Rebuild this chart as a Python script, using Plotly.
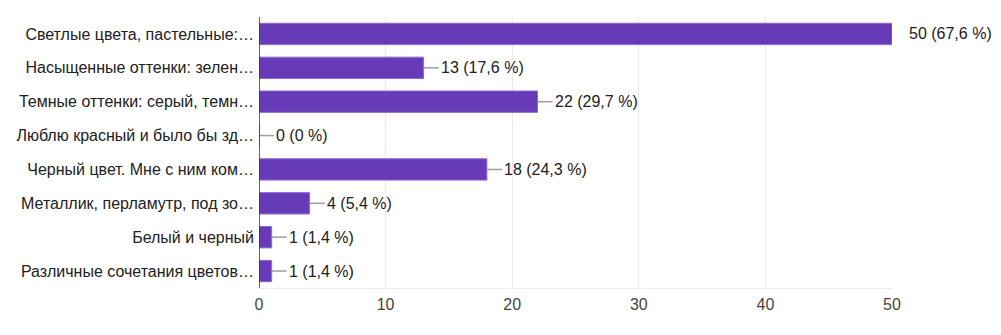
import plotly.graph_objects as go

categories = [
    "Светлые цвета, пастельные:…",
    "Насыщенные оттенки: зелен…",
    "Темные оттенки: серый, темн…",
    "Люблю красный и было бы зд…",
    "Черный цвет. Мне с ним ком…",
    "Металлик, перламутр, под зо…",
    "Белый и черный",
    "Различные сочетания цветов…",
]
counts = [50, 13, 22, 0, 18, 4, 1, 1]
percents = ["67,6", "17,6", "29,7", "0", "24,3", "5,4", "1,4", "1,4"]
x_ticks = [0, 10, 20, 30, 40, 50]

BAR = "#673ab7"
TEXT = "#212121"
FONT = "Liberation Sans, Arial"
FS = 16

fig = go.Figure()
fig.add_trace(go.Bar(
    y=categories, x=counts, orientation="h",
    marker=dict(color=BAR, line=dict(color="#8c6bd0", width=1)),
    width=0.63, hoverinfo="skip",
))

xmax = 50
for cat, v, p in zip(categories, counts, percents):
    label = f"{v} ({p} %)"
    if v < xmax:
        fig.add_shape(type="line", xref="x", yref="y", xsizemode="pixel",
                      xanchor=v, x0=0, x1=15, y0=cat, y1=cat,
                      line=dict(color="#9e9e9e", width=1.5))
    fig.add_annotation(x=v, y=cat, text=label, showarrow=False,
                       xanchor="left", xshift=15,
                       font=dict(family=FONT, size=FS, color=TEXT))

fig.update_layout(
    width=1001, height=335,
    margin=dict(l=259, r=109, t=17, b=47),
    paper_bgcolor="white", plot_bgcolor="white",
    showlegend=False, bargap=0.37,
    font=dict(family=FONT, size=FS, color=TEXT),
)
fig.update_xaxes(
    range=[0, 50], tickvals=x_ticks, showgrid=True, gridcolor="#ebebeb", gridwidth=1,
    zeroline=False, showline=True, linecolor="#ebebeb", ticks="",
    tickfont=dict(size=FS, color="#444444"), ticklabelstandoff=2,
)
fig.update_yaxes(
    autorange="reversed", showgrid=False, zeroline=False,
    showline=False, ticks="", ticklabelstandoff=4,
    tickfont=dict(size=FS, color=TEXT),
)
fig.add_shape(type="line", xref="x", yref="paper", x0=0, x1=0, y0=0, y1=1,
              line=dict(color="#333333", width=1.5))

fig.write_html("out.html")
